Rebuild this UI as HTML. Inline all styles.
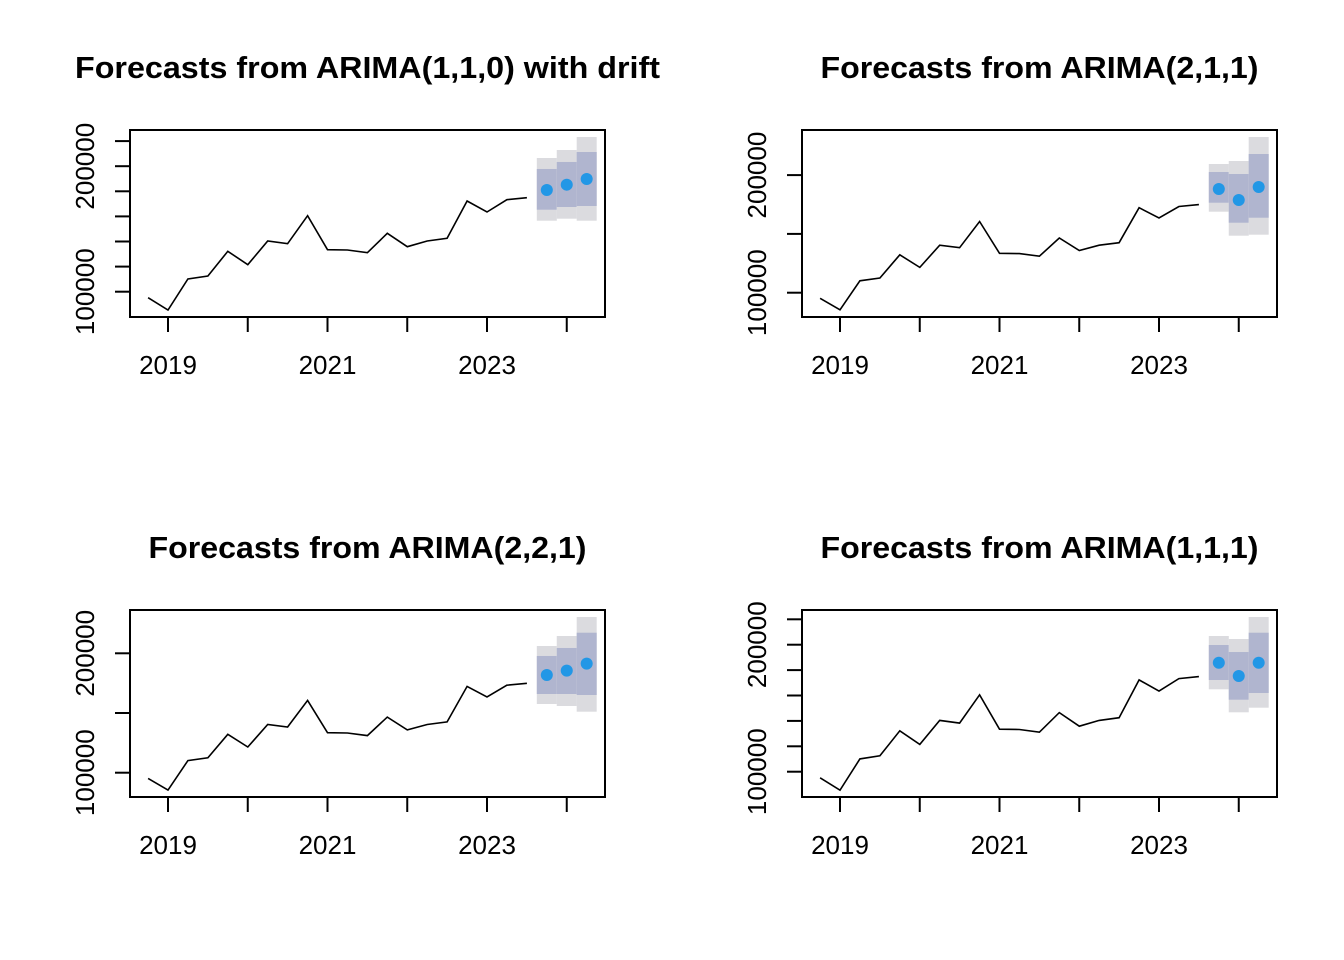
<!DOCTYPE html>
<html><head><meta charset="utf-8"><style>
html,body{margin:0;padding:0;background:#fff}
svg{display:block}
text{font-family:"Liberation Sans",sans-serif;fill:#000}
</style></head><body>
<svg id="chart" width="1344" height="960" viewBox="0 0 1344 960" xmlns="http://www.w3.org/2000/svg"></svg>
<script>
const histTimes = [2018.75,2019,2019.25,2019.5,2019.75,2020,2020.25,2020.5,2020.75,2021,2021.25,2021.5,2021.75,2022,2022.25,2022.5,2022.75,2023,2023.25,2023.5];
const histValues = [95220,85420,110120,112510,132190,121510,140400,138250,160560,133470,133230,131080,146530,135860,140400,142550,172270,163500,173310,174900];
const fcTimes = [2023.75,2024,2024.25];
const xTicks = [2019,2020,2021,2022,2023,2024];
const xTickLabels = ["2019","","2021","","2023",""];
const titles = ["Forecasts from ARIMA(1,1,0) with drift","Forecasts from ARIMA(2,1,1)","Forecasts from ARIMA(2,2,1)","Forecasts from ARIMA(1,1,1)"];
const fcMean = [[181040,185260,189800],[188150,178800,189850],[181820,185500,191360],[185830,175350,185830]];
const lo80 = [[165340,167490,168290],[176530,159520,163770],[165910,165910,165070],[172210,156700,161970]];
const hi80 = [[197770,203350,211310],[202630,200930,217940],[197740,204440,217250],[199770,194250,209450]];
const lo95 = [[156570,158170,156570],[168870,148470,149320],[157540,155860,151090],[164880,146770,150390]];
const hi95 = [[206530,212910,223260],[209430,211980,232390],[206110,214490,230400],[206850,204490,221810]];
const yMin = [79840,79340,79650,80080];
const yMax = [228840,238350,236260,227330];
const yTickStep = [20000,50000,50000,20000];
const yLabelVals = [100000,200000];

const NS="http://www.w3.org/2000/svg";
const svg=document.getElementById('chart');
function mk(tag,attrs,parent){const e=document.createElementNS(NS,tag);for(const k in attrs)e.setAttribute(k,attrs[k]);(parent||svg).appendChild(e);return e;}
const boxes=[[130,130],[802,130],[130,610],[802,610]];
const titleW=[585,438,438,438];
const W=475,H=187;
for(let p=0;p<4;p++){
  const [bx,by]=boxes[p];
  const g=mk('g',{});
  
  
  const xs=t=>bx+38+(t-2019)*79.75;
  const ys=v=>by+H-(v-yMin[p])/(yMax[p]-yMin[p])*H;
  const tt=mk('text',{x:bx+W/2,y:by-52,'text-anchor':'middle','font-size':'31','font-weight':'bold',textLength:titleW[p],lengthAdjust:'spacingAndGlyphs'},g);
  tt.textContent=titles[p];
  
  
  for(let i=0;i<fcTimes.length;i++){
    const x0=xs(fcTimes[i])-10;
    const r1=mk('rect',{x:x0,y:ys(hi95[p][i]),width:20,height:ys(lo95[p][i])-ys(hi95[p][i]),fill:'#DBDBDF'},g);
    
    
    const r2=mk('rect',{x:x0,y:ys(hi80[p][i]),width:20,height:ys(lo80[p][i])-ys(hi80[p][i]),fill:'#B0B5CF'},g);
    
    
  }
  for(let i=0;i<fcTimes.length;i++){
    const c=mk('circle',{cx:xs(fcTimes[i]),cy:ys(fcMean[p][i]),r:6,fill:'#2297E6'},g);
    
    
  }
  const pts=histTimes.map((t,i)=>xs(t).toFixed(1)+','+ys(histValues[i]).toFixed(1)).join(' ');
  const ln=mk('polyline',{points:pts,fill:'none',stroke:'#000','stroke-width':1.6},g);
  
  
  const bxr=mk('rect',{x:bx,y:by,width:W,height:H,fill:'none',stroke:'#000','stroke-width':2},g);
  
  
  xTicks.forEach((t,i)=>{
    mk('line',{x1:xs(t),x2:xs(t),y1:by+H,y2:by+H+15,stroke:'#000','stroke-width':2},g);
    if(xTickLabels[i]){
      const l=mk('text',{x:xs(t),y:by+H+57,'text-anchor':'middle','font-size':'26'},g);
      l.textContent=xTickLabels[i];
      
      
    }
  });
  for(let v=100000;v<yMax[p];v+=yTickStep[p]){
    mk('line',{x1:bx,x2:bx-15,y1:ys(v),y2:ys(v),stroke:'#000','stroke-width':2},g);
  }
  yLabelVals.forEach(v=>{
    const yy=ys(v);
    const l=mk('text',{x:0,y:0,'text-anchor':'middle','font-size':'26',transform:`translate(${bx-36},${yy}) rotate(-90)`},g);
    l.textContent=String(v);
    
    
  });
}
</script>
</body></html>
